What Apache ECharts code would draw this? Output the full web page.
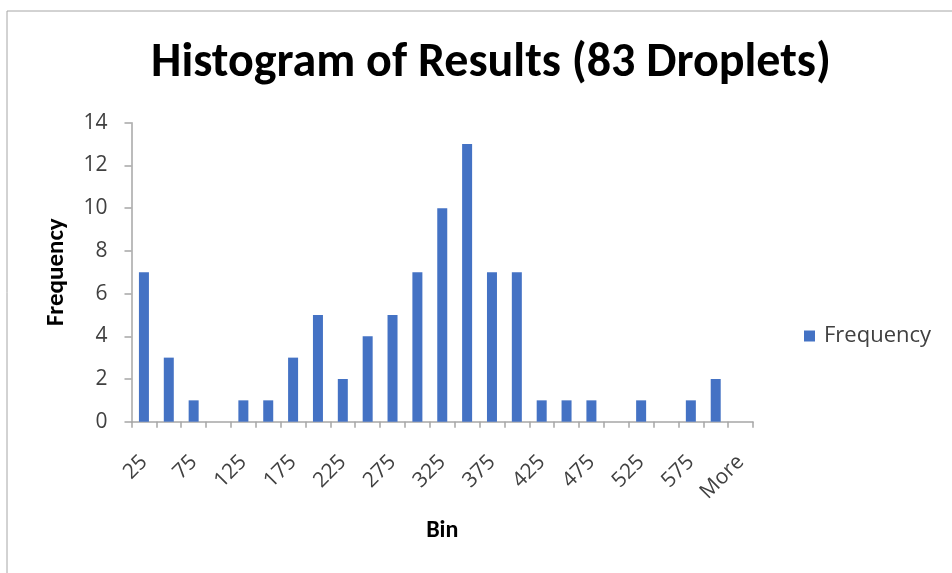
<!DOCTYPE html>
<html>
<head>
<meta charset="utf-8">
<script src="https://cdn.jsdelivr.net/npm/echarts@6/dist/echarts.min.js"></script>
<style>
  html, body { margin: 0; padding: 0; background: #fff; }
  #chart-container { width: 952px; height: 573px; }
</style>
</head>
<body>
<div id="chart-container"></div>
<script>
// bins of the histogram
var bins = ['25', '50', '75', '100', '125', '150', '175', '200', '225', '250', '275', '300',
    '325', '350', '375', '400', '425', '450', '475', '500', '525', '550', '575', '600', 'More'];
var frequency = [7, 3, 1, 0, 1, 1, 3, 5, 2, 4, 5, 7, 10, 13, 7, 7, 1, 1, 1, 0, 1, 0, 1, 2, 0];
var yTicks = { min: 0, max: 14, interval: 2 };

var titleFont = 'Carlito, Calibri, "Open Sans", sans-serif';
var tickFont = '"Open Sans", "Segoe UI", sans-serif';

var chartDom = document.getElementById('chart-container');
var histChart = echarts.init(chartDom);

var option = {
    animation: false,
    title: {
        text: 'Histogram of Results (83 Droplets)',
        left: 486,
        textAlign: 'center',
        top: 35,
        textStyle: {
            fontFamily: titleFont,
            fontWeight: 'bold',
            fontSize: 48,
            color: '#000'
        }
    },
    // the border of the chart area (only top and left edges show)
    graphic: [
        {
            type: 'rect',
            shape: { x: 7, y: 11, width: 960, height: 580 },
            style: { fill: 'none', stroke: '#a6a6a6', lineWidth: 1 },
            z: -1
        }
    ],
    legend: {
        data: ['Frequency'],
        left: 804,
        top: 325,
        padding: 0,
        icon: 'rect',
        itemWidth: 11,
        itemHeight: 11,
        textStyle: {
            fontFamily: tickFont,
            fontSize: 22,
            color: '#404040',
            padding: [0, 0, 0, 4]
        }
    },
    grid: {
        left: 131.5,
        right: 199,
        top: 122.7,
        bottom: 151.3
    },
    xAxis: {
        type: 'category',
        data: bins,
        boundaryGap: true,
        name: 'Bin',
        nameLocation: 'middle',
        nameGap: 97,
        nameTextStyle: {
            fontFamily: titleFont,
            fontWeight: 'bold',
            fontSize: 24,
            color: '#000'
        },
        axisLine: { lineStyle: { color: '#a6a6a6', width: 1.5 } },
        axisTick: { show: true, interval: 0, length: 6, lineStyle: { color: '#a6a6a6', width: 1.5 } },
        axisLabel: {
            interval: 1,
            rotate: 45,
            margin: 37,
            fontFamily: tickFont,
            fontSize: 21,
            color: '#404040'
        }
    },
    yAxis: {
        type: 'value',
        min: yTicks.min,
        max: yTicks.max,
        interval: yTicks.interval,
        name: 'Frequency',
        nameLocation: 'middle',
        nameGap: 62,
        nameRotate: 90,
        nameTextStyle: {
            fontFamily: titleFont,
            fontWeight: 'bold',
            fontSize: 25,
            color: '#000'
        },
        axisLine: { show: true, lineStyle: { color: '#a6a6a6', width: 1.5 } },
        axisTick: { show: true, length: 7, lineStyle: { color: '#a6a6a6', width: 1.5 } },
        splitLine: { show: false },
        axisLabel: {
            margin: 24,
            fontFamily: tickFont,
            fontSize: 21,
            color: '#404040'
        }
    },
    series: [
        {
            name: 'Frequency',
            type: 'bar',
            barWidth: 10,
            itemStyle: { color: '#4472c4' },
            data: frequency
        }
    ]
};
histChart.setOption(option);
window.addEventListener('resize', histChart.resize);
</script>
</body>
</html>
